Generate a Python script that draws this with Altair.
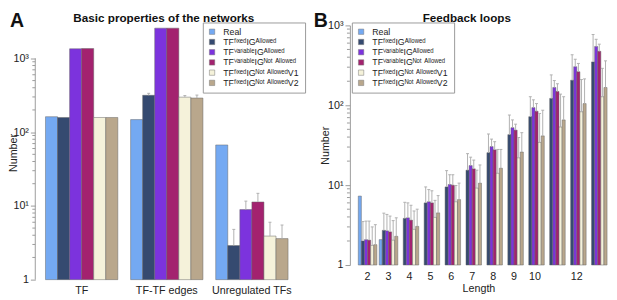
import altair as alt
import pandas as pd

SERIES = [
    "Real",
    "TFᶠⁱˣᵉᵈIGᴬˡˡᵒʷᵉᵈ",
    "TFⱽᵃʳⁱᵃᵇˡᵉIGᴬˡˡᵒʷᵉᵈ",
    "TFⱽᵃʳⁱᵃᵇˡᵉIGᴺᵒᵗ ᴬˡˡᵒʷᵉᵈ",
    "TFᶠⁱˣᵉᵈIGᴺᵒᵗ ᴬˡˡᵒʷᵉᵈV1",
    "TFᶠⁱˣᵉᵈIGᴺᵒᵗ ᴬˡˡᵒʷᵉᵈV2",
]
COLORS = ["#74a9f2", "#354a70", "#7c33dd", "#a3226f", "#f5f2da", "#b9a78c"]

# ---- Panel A: basic properties ----
A_CATS = ["TF", "TF-TF edges", "Unregulated TFs"]
A_REAL = [162, 148, 67]
A_FIXED = [158, 316, 2.9]
A_VAR_ALLOWED = [1350, 2570, 8.9]
A_VAR_NOT = [1360, 2570, 11.3]
A_V1 = [158, 298, 3.9]
A_V2 = [158, 290, 3.6]
A_ERR_REAL = [None, None, None]
A_ERR_FIXED = [None, 336, 4.8]
A_ERR_VAR_ALLOWED = [None, None, 11.6]
A_ERR_VAR_NOT = [None, None, 14.8]
A_ERR_V1 = [None, 313, 6.0]
A_ERR_V2 = [None, 318, 5.5]

# ---- Panel B: feedback loops ----
B_LENGTHS = ["2", "3", "4", "5", "6", "7", "8", "9", "10", "11", "12", "13"]
B_REAL = [7.3, 2.08, None, None, None, None, None, None, None, None, None, None]
B_FIXED = [2.0, 2.72, 3.84, 6.0, 9.5, 15.4, 25.5, 42.9, 72, 122, 206, 349]
B_VAR_ALLOWED = [2.08, 2.68, 3.9, 6.2, 10.2, 17.6, 30.4, 52.5, 93.5, 167, 304, 545]
B_VAR_NOT = [2.05, 2.6, 3.65, 6.0, 10.0, 16.0, 27.7, 48.9, 84.4, 149, 263, 474]
B_V1 = [1.76, 2.05, 2.8, 3.95, 6.2, 9.2, 14.1, 22, 34.3, 53.5, 83, 128]
B_V2 = [1.8, 2.29, 3.05, 4.5, 6.6, 10.6, 16.3, 26, 41.4, 65.6, 105, 167]
B_ERR_REAL = [None] * 12
B_ERR_FIXED = [3.5, 4.46, 6.1, 9.5, 15.2, 24.8, 43.7, 75.5, 128, 240, 429, 769]
B_ERR_VAR_ALLOWED = [3.55, 4.3, 6.0, 8.8, 13.5, 22.4, 37.7, 65.6, 117, 204, 377, 670]
B_ERR_VAR_NOT = [3.55, 4.1, 5.6, 8.5, 13.5, 20.6, 35, 58, 105, 186, 334, 582]
B_ERR_V1 = [3.0, 3.6, 4.75, 6.45, 9.9, 15.4, 28, 39.5, 79, 138, 210, 290]
B_ERR_V2 = [3.2, 3.9, 5.0, 7.4, 10.6, 17.9, 28, 45.4, 86.7, 128, 214, 360]

MAJOR = [1, 10, 100, 1000]
MINOR = [m * d for d in (1, 10, 100) for m in range(2, 10)]

FONT = "Liberation Sans"
GREY = "#b0b0b0"
AXIS_GREY = "#9a9a9a"


def build(cats, values, errors):
    rows = []
    for s, vals, errs in zip(SERIES, values, errors):
        for c, v, e in zip(cats, vals, errs):
            if v is None:
                continue
            rows.append({"cat": c, "series": s, "value": v, "upper": e, "base": 1})
    return pd.DataFrame(rows)


dfA = build(A_CATS, [A_REAL, A_FIXED, A_VAR_ALLOWED, A_VAR_NOT, A_V1, A_V2],
            [A_ERR_REAL, A_ERR_FIXED, A_ERR_VAR_ALLOWED, A_ERR_VAR_NOT, A_ERR_V1, A_ERR_V2])
dfB = build(B_LENGTHS, [B_REAL, B_FIXED, B_VAR_ALLOWED, B_VAR_NOT, B_V1, B_V2],
            [B_ERR_REAL, B_ERR_FIXED, B_ERR_VAR_ALLOWED, B_ERR_VAR_NOT, B_ERR_V1, B_ERR_V2])

LBL = "datum.value == 1 ? '1' : datum.value == 10 ? '10¹' : datum.value == 100 ? '10²' : '10³'"


def yaxis(domain_line, tpad):
    return alt.Axis(values=MAJOR, labelExpr=LBL, title="Number", titleFontSize=11,
                    titleFontWeight="normal", titleColor="#222", labelFontSize=11,
                    labelColor="#222", tickColor=AXIS_GREY, tickSize=5, domain=domain_line,
                    domainColor=AXIS_GREY, grid=False, titlePadding=tpad, labelPadding=2,
                    labelFont=FONT, titleFont=FONT)


def legend(lx, ly):
    return alt.Legend(orient="none", legendX=lx, legendY=ly, title=None,
                      strokeColor="#999", fillColor="white", padding=5,
                      symbolType="square", symbolSize=30, symbolStrokeColor="#777",
                      symbolStrokeWidth=0.5, labelFontSize=9, labelFont=FONT,
                      labelColor="#222", labelOffset=7, rowPadding=0.5, labelLimit=300)


def panel(df, cats, xscale, xaxis, ymax, domain_line, tpad, lx, ly, letter, letter_x,
          title, title_x, width, height):
    ys = alt.Scale(type="log", domain=[1, ymax], nice=False)
    ya = yaxis(domain_line, tpad)
    X = alt.X("cat:N", sort=cats, scale=xscale, axis=xaxis)
    XO = alt.XOffset("series:N", sort=SERIES, scale=alt.Scale(domain=SERIES))
    base = alt.Chart(df)
    bars = base.mark_bar(stroke="#666", strokeWidth=0.5).encode(
        x=X, xOffset=XO,
        y=alt.Y("value:Q", scale=ys, axis=ya, stack=None),
        y2="base:Q",
        color=alt.Color("series:N", sort=SERIES,
                        scale=alt.Scale(domain=SERIES, range=COLORS),
                        legend=legend(lx, ly)),
    )
    errbase = base.transform_filter("isValid(datum.upper)")
    err = errbase.mark_rule(color=GREY, strokeWidth=1).encode(
        x=X, xOffset=XO, y=alt.Y("value:Q", scale=ys, axis=ya, stack=None), y2="upper:Q")
    cap = errbase.mark_point(shape="M-1,0L1,0", filled=False, size=9, color=GREY,
                             strokeWidth=1, opacity=1).encode(
        x=X, xOffset=XO, y=alt.Y("upper:Q", scale=ys, axis=ya, stack=None))
    minor = alt.Chart(pd.DataFrame({"m": MINOR})).mark_rule(color=AXIS_GREY).encode(
        x=alt.value(-3), x2=alt.value(0), y=alt.Y("m:Q", scale=ys, axis=ya))
    layers = [bars, err, cap, minor]
    if not domain_line:
        axline = alt.Chart(pd.DataFrame({"lo": [1], "hi": [1000]})).mark_rule(
            color=AXIS_GREY).encode(x=alt.value(0), y=alt.Y("lo:Q", scale=ys, axis=ya),
                                    y2="hi:Q")
        layers.append(axline)
    let = alt.Chart(pd.DataFrame({"t": [letter]})).mark_text(
        fontSize=20, fontWeight="bold", font=FONT, align="left", baseline="top",
        color="#111").encode(text="t:N", x=alt.value(letter_x), y=alt.value(-14))
    ttl = alt.Chart(pd.DataFrame({"t": [title]})).mark_text(
        fontSize=12, fontWeight="bold", font=FONT, align="center", baseline="top",
        color="#111").encode(text="t:N", x=alt.value(title_x), y=alt.value(-13))
    layers += [let, ttl]
    return alt.layer(*layers).properties(width=width, height=height)


xaxA = alt.Axis(title=None, labelAngle=0, domain=False, ticks=False, labelFontSize=11,
                labelFont=FONT, labelColor="#222", labelPadding=5)
panelA = panel(dfA, A_CATS, alt.Scale(paddingInner=0.15, paddingOuter=0.12), xaxA,
               2800, False, -6, 172, -3, "A", -26, "Basic properties of the networks", 132,
               270, 261)

xaxB = alt.Axis(title="Length", labelAngle=0, domain=False, ticks=False, labelFontSize=11,
                labelFont=FONT, labelColor="#222", labelPadding=6, titleFontSize=11,
                titleFontWeight="normal", titleFont=FONT, titleColor="#222",
                titlePadding=1,
                labelExpr="datum.label == '11' || datum.label == '13' ? '' : datum.label")
panelB = panel(dfB, B_LENGTHS, alt.Scale(paddingInner=0.11, paddingOuter=0.2, align=1),
               xaxB, 1000, True, -3, 2, -3, "B", -37, "Feedback loops", 120, 264, 246)

chart = alt.hconcat(panelA, panelB, spacing=8).resolve_scale(
    color="independent", x="independent", y="independent", xOffset="independent"
).resolve_legend(color="independent").properties(padding=0).configure(
    font=FONT).configure_view(stroke=None)

chart.save("out.html", embed_options={"renderer": "svg", "actions": False})
